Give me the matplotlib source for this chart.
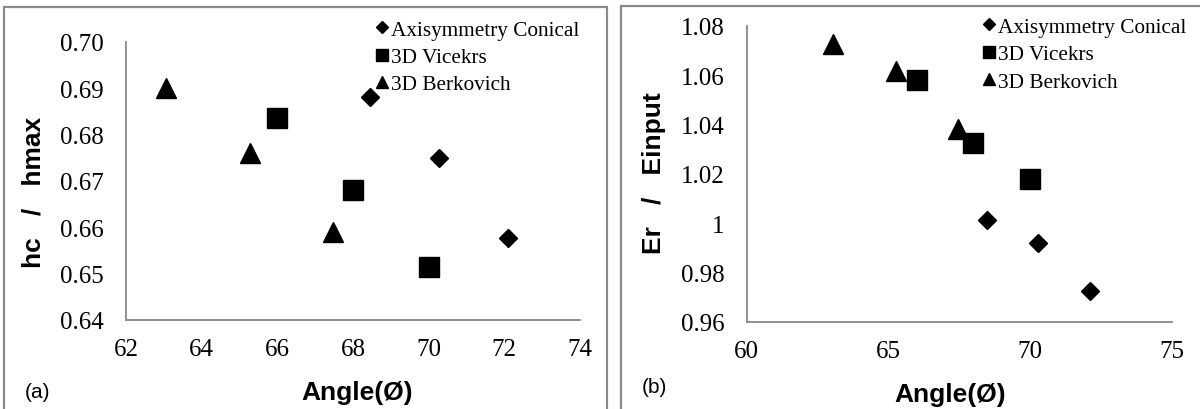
import matplotlib
matplotlib.use("Agg")
import matplotlib.pyplot as plt
from matplotlib.patches import Rectangle
from matplotlib.lines import Line2D

# ---- data ----
conical_angle = [68.46, 70.28, 72.1]
vickers_angle = [66.0, 68.0, 70.0]
berkovich_angle = [63.05, 65.27, 67.47]

hc_conical = [0.6882, 0.675, 0.6578]
hc_vickers = [0.6835, 0.668, 0.6514]
hc_berkovich = [0.690, 0.676, 0.659]

er_conical = [1.0014, 0.9919, 0.9723]
er_vickers = [1.058, 1.0324, 1.0179]
er_berkovich = [1.0726, 1.0615, 1.038]

series_labels = ["Axisymmetry Conical", "3D Vicekrs", "3D Berkovich"]
ticks_a_x = [62, 64, 66, 68, 70, 72, 74]
ticks_a_y = [0.64, 0.65, 0.66, 0.67, 0.68, 0.69, 0.70]
ticks_b_x = [60, 65, 70, 75]
ticks_b_y = [0.96, 0.98, 1.00, 1.02, 1.04, 1.06, 1.08]
ticklabels_b_y = ["0.96", "0.98", "1", "1.02", "1.04", "1.06", "1.08"]

W, H = 1200, 410
fig = plt.figure(figsize=(W / 100, H / 100), dpi=100)
fig.patch.set_facecolor("white")

def px_axes(l, t, r, b):
    return fig.add_axes([l / W, 1 - b / H, (r - l) / W, (b - t) / H])

SERIF = "Liberation Serif"
SANS = "Liberation Sans"
GREY = "#878787"

# panel borders
for (l, t, r, b) in [(4, 8, 607, 414), (621, 7, 1210, 414)]:
    fig.add_artist(Rectangle((l / W, 1 - b / H), (r - l) / W, (b - t) / H,
                             transform=fig.transFigure, fill=False,
                             edgecolor="#8a8a8a", linewidth=1.6, clip_on=False))

def style(ax):
    for s in ["top", "right"]:
        ax.spines[s].set_visible(False)
    for s in ["left", "bottom"]:
        ax.spines[s].set_color(GREY)
        ax.spines[s].set_linewidth(1.3)
    ax.tick_params(axis="y", length=0, pad=16, labelsize=18)
    ax.tick_params(axis="x", length=0, pad=13, labelsize=18)
    for lab in ax.get_xticklabels() + ax.get_yticklabels():
        lab.set_fontfamily(SERIF)
    ax.set_facecolor("none")

def scatter_all(ax, ydat):
    yc, yv, yb = ydat
    ax.plot(conical_angle, yc, linestyle="none", marker="D", markersize=9.5, color="black", clip_on=False)
    ax.plot(vickers_angle, yv, linestyle="none", marker="s", markersize=14, color="black", clip_on=False)
    ax.plot(berkovich_angle, yb, linestyle="none", marker="^", markersize=15, color="black", clip_on=False)

def legend(ax, x, y):
    handles = [Line2D([], [], linestyle="none", marker="D", markersize=6.5, color="black"),
               Line2D([], [], linestyle="none", marker="s", markersize=9, color="black"),
               Line2D([], [], linestyle="none", marker="^", markersize=9, color="black")]
    leg = ax.legend(handles, series_labels, loc="upper left",
                    bbox_to_anchor=(x / W, 1 - y / H), bbox_transform=fig.transFigure,
                    frameon=False, handlelength=0.6, handletextpad=0.12,
                    labelspacing=0.35, borderpad=0, borderaxespad=0,
                    prop={"family": SERIF, "size": 15.3})
    return leg

# ---- panel (a) ----
axa = px_axes(126, 43, 580, 321)
scatter_all(axa, (hc_conical, hc_vickers, hc_berkovich))
axa.set_xlim(62, 74)
axa.set_ylim(0.64, 0.70)
axa.set_xticks(ticks_a_x)
axa.set_yticks(ticks_a_y)
axa.set_yticklabels([f"{v:.2f}" for v in ticks_a_y])
style(axa)
legend(axa, 376, 21)
fig.text(357 / W, 1 - 393 / H, "Angle(Ø)", ha="center", va="center",
         fontsize=19, fontweight="bold", family=SANS)
fig.text(34 / W, 1 - 192 / H, "hc   /   hmax", ha="center", va="center",
         rotation=90, fontsize=19, fontweight="bold", family=SANS)
fig.text(38 / W, 1 - 393 / H, "(a)", ha="center", va="center", fontsize=15, family=SANS)

# ---- panel (b) ----
axb = px_axes(746.6, 26.7, 1172, 322.7)
scatter_all(axb, (er_conical, er_vickers, er_berkovich))
axb.set_xlim(60, 75)
axb.set_ylim(0.96, 1.08)
axb.set_xticks(ticks_b_x)
axb.set_yticks(ticks_b_y)
axb.set_yticklabels(ticklabels_b_y)
style(axb)
legend(axb, 983, 18)
fig.text(950 / W, 1 - 395 / H, "Angle(Ø)", ha="center", va="center",
         fontsize=19, fontweight="bold", family=SANS)
fig.text(654 / W, 1 - 173 / H, "Er   /   Einput", ha="center", va="center",
         rotation=90, fontsize=19, fontweight="bold", family=SANS)
fig.text(654 / W, 1 - 388 / H, "(b)", ha="center", va="center", fontsize=15, family=SANS)

fig.savefig("out.png", dpi=100, facecolor="white")
